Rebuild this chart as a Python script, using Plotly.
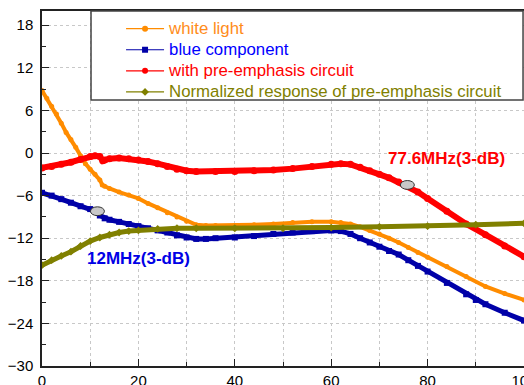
import plotly.graph_objects as go

# ---- data ----
x_white = [0, 1, 2, 3, 4, 5, 6, 7, 8, 9, 10, 11, 12, 12.5, 13, 14, 16, 18, 20, 22, 24, 26, 28, 30, 32, 34, 36,
           40, 44, 48, 52, 56, 60, 62, 64, 66, 68, 70, 72, 74, 76, 78, 80, 84, 88, 92, 96, 100]
y_white = [8.8, 7.7, 6.6, 5.5, 4.2, 2.9, 1.9, 0.8, -0.4, -1.5, -2.3, -3.0, -3.8, -4.5, -4.7, -5.0, -5.5, -5.9,
           -6.4, -7.1, -7.7, -8.4, -9.0, -9.6, -10.1, -10.2, -10.2, -10.2, -10.1, -10.0, -9.8, -9.7, -9.7,
           -9.8, -10.0, -10.4, -10.9, -11.4, -12.0, -12.6, -13.3, -14.0, -14.7, -16.0, -17.4, -18.8, -19.8, -20.7]

x_blue = [0, 2, 4, 6, 8, 10, 11, 12, 13, 14, 16, 18, 20, 22, 24, 26, 28, 30, 32, 34, 36, 40, 44, 48, 52, 56,
          60, 62, 64, 66, 68, 70, 72, 74, 76, 78, 80, 84, 88, 90, 92, 96, 100]
y_blue = [-5.6, -6.0, -6.5, -7.0, -7.5, -7.9, -8.2, -8.8, -9.2, -9.4, -9.7, -10.0, -10.3, -10.6, -10.9, -11.2,
          -11.6, -11.9, -12.1, -12.1, -12.0, -11.9, -11.7, -11.4, -11.2, -11.0, -10.9, -11.0, -11.4, -12.0,
          -12.6, -13.2, -13.8, -14.3, -15.1, -15.9, -16.7, -18.3, -19.9, -20.7, -21.3, -22.5, -23.6]

x_red = [0, 2, 4, 6, 8, 10, 11, 12, 12.6, 13, 14, 16, 18, 20, 22, 24, 26, 28, 30, 32, 36, 40, 44, 48, 52, 56,
         60, 62, 64, 66, 68, 70, 72, 74, 76, 78, 80, 84, 88, 92, 96, 100]
y_red = [-2.1, -1.9, -1.6, -1.3, -0.9, -0.5, -0.4, -0.5, -1.1, -1.0, -0.8, -0.7, -0.8, -1.0, -1.2, -1.5, -1.9,
         -2.3, -2.5, -2.6, -2.6, -2.6, -2.5, -2.4, -2.2, -1.9, -1.6, -1.5, -1.6, -2.0, -2.5, -3.0, -3.5, -4.1,
         -4.7, -5.5, -6.4, -8.2, -10.0, -11.5, -13.1, -14.6]

x_norm = [0, 2, 4, 6, 8, 10, 12, 14, 16, 18, 20, 24, 28, 32, 40, 50, 60, 70, 80, 90, 100]
y_norm = [-15.8, -15.1, -14.5, -13.9, -13.1, -12.4, -11.9, -11.5, -11.2, -11.0, -10.9, -10.7, -10.6, -10.6,
          -10.6, -10.6, -10.5, -10.4, -10.3, -10.1, -9.9]

names = ["white light", "blue component", "with pre-emphasis circuit",
         "Normalized response of pre-emphasis circuit"]

# 3-dB points and their labels
mark_x = [11.5, 75.8]
mark_y = [-8.2, -4.5]
label_text = ["12MHz(3-dB)", "77.6MHz(3-dB)"]
label_x = [20.1, 83.9]
label_y = [-14.8, -0.8]

y_ticks = [-30, -24, -18, -12, -6, 0, 6, 12, 18]
x_ticks = [0, 20, 40, 60, 80, 100]

# ---- styling ----
line_cols = ["#FF8C00", "#0000A8", "#FF0000", "#808000"]
text_cols = ["#FF8C1A", "#0000FF", "#FF0000", "#808000"]
symbols = ["circle", "square", "circle", "diamond"]
widths = [4, 5, 6, 5]
FONT = "Liberation Sans, Arial, sans-serif"

fig = go.Figure()
series = [(x_white, y_white), (x_blue, y_blue), (x_red, y_red), (x_norm, y_norm)]
for i, (xs, ys) in enumerate(series):
    fig.add_trace(go.Scatter(
        x=xs, y=ys, mode="lines+markers", showlegend=False,
        line=dict(color=line_cols[i], width=widths[i]),
        marker=dict(color=line_cols[i], size=widths[i] + 1, symbol=symbols[i]),
        hoverinfo="skip"))

# legend entries (thin line + marker, coloured text)
for i in range(4):
    fig.add_trace(go.Scatter(
        x=[None], y=[None], mode="lines+markers",
        name=f"<span style='color:{text_cols[i]};font-size:16.8px'>{names[i]}</span>",
        line=dict(color=line_cols[i], width=1.2),
        marker=dict(color=line_cols[i], size=6, symbol=symbols[i])))

shapes = []
# legend frame
shapes.append(dict(type="rect", xref="paper", yref="paper", x0=0.1017, x1=0.998, y0=0.749, y1=1.0,
                   line=dict(color="#444444", width=1.5), fillcolor="white", layer="above"))
# 3-dB ellipses
for mx, my in zip(mark_x, mark_y):
    shapes.append(dict(type="circle", xref="x", yref="y", x0=mx - 1.45, x1=mx + 1.45,
                       y0=my - 0.62, y1=my + 0.62, fillcolor="#C8C8C8",
                       line=dict(color="#333333", width=1), layer="above"))

annotations = []
for t, ax_, ay_, c in zip(label_text, label_x, label_y, ["#0000E6", "#FF0000"]):
    annotations.append(dict(x=ax_, y=ay_, xref="x", yref="y", text=f"<b>{t}</b>", showarrow=False,
                            font=dict(family=FONT, size=17, color=c)))

fig.update_layout(
    width=524, height=385, autosize=False,
    margin=dict(l=42, r=0, t=11, b=19, autoexpand=False),
    paper_bgcolor="white", plot_bgcolor="white",
    font=dict(family=FONT, size=15, color="black"),
    shapes=shapes, annotations=annotations,
    legend=dict(x=0.164, y=0.994, xanchor="left", yanchor="top", bgcolor="rgba(0,0,0,0)",
                borderwidth=0, font=dict(family=FONT, size=13.9), itemwidth=38,
                tracegroupgap=0),
)
fig.update_xaxes(
    range=[0, 100], tickvals=x_ticks, ticks="inside", ticklen=7, tickwidth=1.2, tickcolor="#222",
    showline=True, linecolor="#222", linewidth=1.5, mirror=True, automargin=False,
    showgrid=True, gridcolor="#C8C8C8", griddash="dot", gridwidth=1,
    minor=dict(dtick=10, tick0=0, ticks="inside", ticklen=4, tickcolor="#222", showgrid=True,
               gridcolor="#C8C8C8", griddash="dot", gridwidth=1),
    ticklabeloverflow="allow", zeroline=False, tickfont=dict(size=15))
fig.update_yaxes(
    range=[-30, 20], tickvals=y_ticks, ticks="inside", ticklen=7, tickwidth=1.2, tickcolor="#222",
    showline=True, linecolor="#222", linewidth=1.5, mirror=True, automargin=False,
    showgrid=True, gridcolor="#C8C8C8", griddash="dot", gridwidth=1,
    minor=dict(dtick=3, tick0=0, ticks="inside", ticklen=4, tickcolor="#222", showgrid=False),
    zeroline=False, tickfont=dict(size=15), ticklabelstandoff=4)

fig.write_html("out.html")
